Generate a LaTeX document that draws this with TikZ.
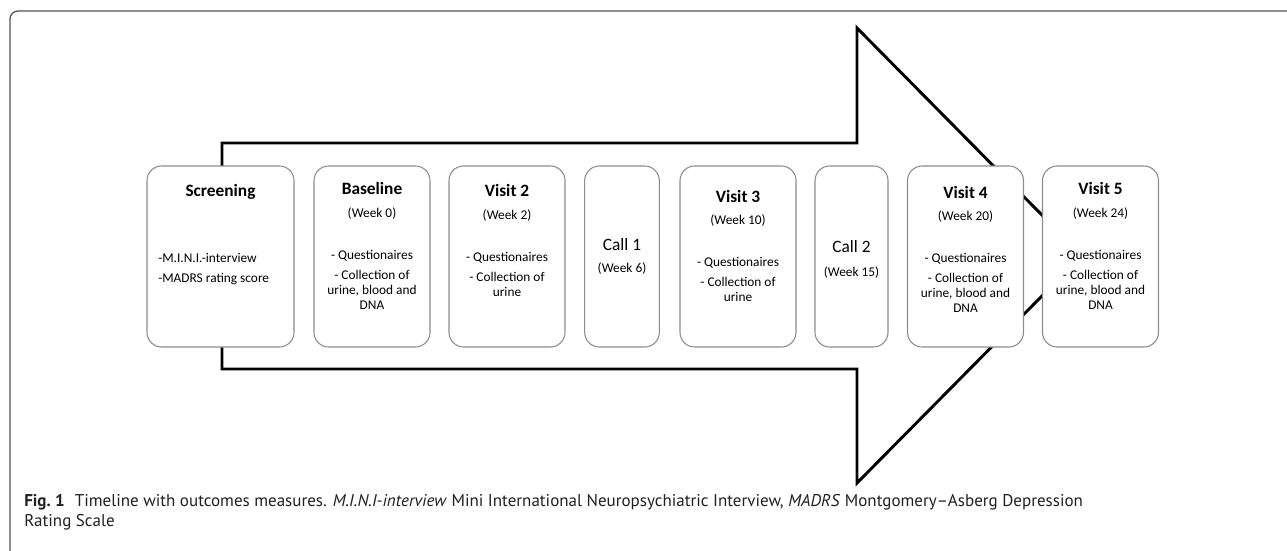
\documentclass[tikz,border=0pt]{standalone}
\usepackage{fontspec}
\setmainfont{Carlito}
\newfontfamily\capfont{PT Sans}
\usepackage{xcolor}
\usepackage{tikz}

\definecolor{boxgray}{RGB}{140,140,140}
\definecolor{framegray}{RGB}{85,85,85}
\definecolor{capblack}{RGB}{35,31,32}

\tikzset{
	visitbox/.style={draw=boxgray, line width=0.8pt, fill=white, rounded corners=11pt, minimum width=87pt, minimum height=135.75pt, inner sep=0pt},
	callbox/.style={visitbox, minimum width=56pt},
	title/.style={font=\fontsize{13}{15}\selectfont\bfseries, inner sep=0pt},
	calltitle/.style={font=\fontsize{13}{15}\selectfont, inner sep=0pt},
	week/.style={font=\fontsize{10}{11.25}\selectfont, inner sep=0pt},
	body/.style={font=\fontsize{10}{11.25}\selectfont, align=center, inner sep=0pt, anchor=north},
}

\begin{document}
\begin{tikzpicture}[x=0.75pt,y=0.75pt,yscale=-1,xscale=1]
	\useasboundingbox (0,0) rectangle (1287,550);
	
	%Frame
	\draw [framegray, line width=1pt, rounded corners=6pt] (10,560) -- (10,11) -- (1300,11) ;
	
	%Big Arrow
	\draw [line width=2.2pt, line join=miter] (222,143) -- (857,143) -- (857,28) -- (1082,255.5) -- (857,483) -- (857,369) -- (222,369) -- cycle ;
	
	%Rounded Rect
	\node [visitbox, minimum width=110.25pt] (scr) at (220.5,256.5) {};
	%Rounded Rect
	\node [visitbox] (base) at (372,256.5) {};
	%Rounded Rect
	\node [visitbox] (vis2) at (507,256.5) {};
	%Rounded Rect
	\node [callbox] (call1) at (622,256.5) {};
	%Rounded Rect
	\node [visitbox] (vis3) at (738,256.5) {};
	%Rounded Rect
	\node [callbox, minimum width=54.75pt] (call2) at (851.5,256.5) {};
	%Rounded Rect
	\node [visitbox] (vis4) at (965.5,256.5) {};
	%Rounded Rect
	\node [visitbox] (vis5) at (1100.5,256.5) {};
	
	% Text Node
	\node [title] (scr-t) at (220.5,192) {Screening};
	\node [body, anchor=north west, align=left] (scr-b) at (158,253) {-M.I.N.I.-interview\\[3.75pt]-MADRS rating score};
	% Text Node
	\node [title] (base-t) at (372,188) {Baseline};
	\node [week] (base-w) at (372,214) {(Week 0)};
	\node [body] (base-b) at (372,250) {- Questionaires\\[3.75pt]- Collection of\\urine, blood and\\DNA};
	% Text Node
	\node [title] (vis2-t) at (507,190) {Visit 2};
	\node [week] (vis2-w) at (507,216) {(Week 2)};
	\node [body] (vis2-b) at (507,252) {- Questionaires\\[3.75pt]- Collection of\\urine};
	% Text Node
	\node [calltitle] (call1-t) at (622,245) {Call 1};
	\node [week] (call1-w) at (622,269) {(Week 6)};
	% Text Node
	\node [title] (vis3-t) at (738,196) {Visit 3};
	\node [week] (vis3-w) at (738,221) {(Week 10)};
	\node [body] (vis3-b) at (738,257) {- Questionaires\\[3.75pt]- Collection of\\urine};
	% Text Node
	\node [calltitle] (call2-t) at (851.5,247) {Call 2};
	\node [week] (call2-w) at (851.5,273) {(Week 15)};
	% Text Node
	\node [title] (vis4-t) at (965.5,192) {Visit 4};
	\node [week] (vis4-w) at (965.5,217) {(Week 20)};
	\node [body] (vis4-b) at (965.5,253) {- Questionaires\\[3.75pt]- Collection of\\urine, blood and\\DNA};
	% Text Node
	\node [title] (vis5-t) at (1100.5,188) {Visit 5};
	\node [week] (vis5-w) at (1100.5,214) {(Week 24)};
	\node [body] (vis5-b) at (1100.5,250) {- Questionaires\\[3.75pt]- Collection of\\urine, blood and\\DNA};
	
	% Caption
	\node [anchor=north west, inner sep=0pt, align=left, text=capblack, font=\capfont\fontsize{12.75}{15}\selectfont] (cap) at (24,494) {\textbf{Fig.~1}\hspace{0.6em}Timeline with outcomes measures. \textit{M.I.N.I-interview} Mini International Neuropsychiatric Interview, \textit{MADRS} Montgomery–Asberg Depression\\Rating Scale};
	
\end{tikzpicture}
\end{document}
